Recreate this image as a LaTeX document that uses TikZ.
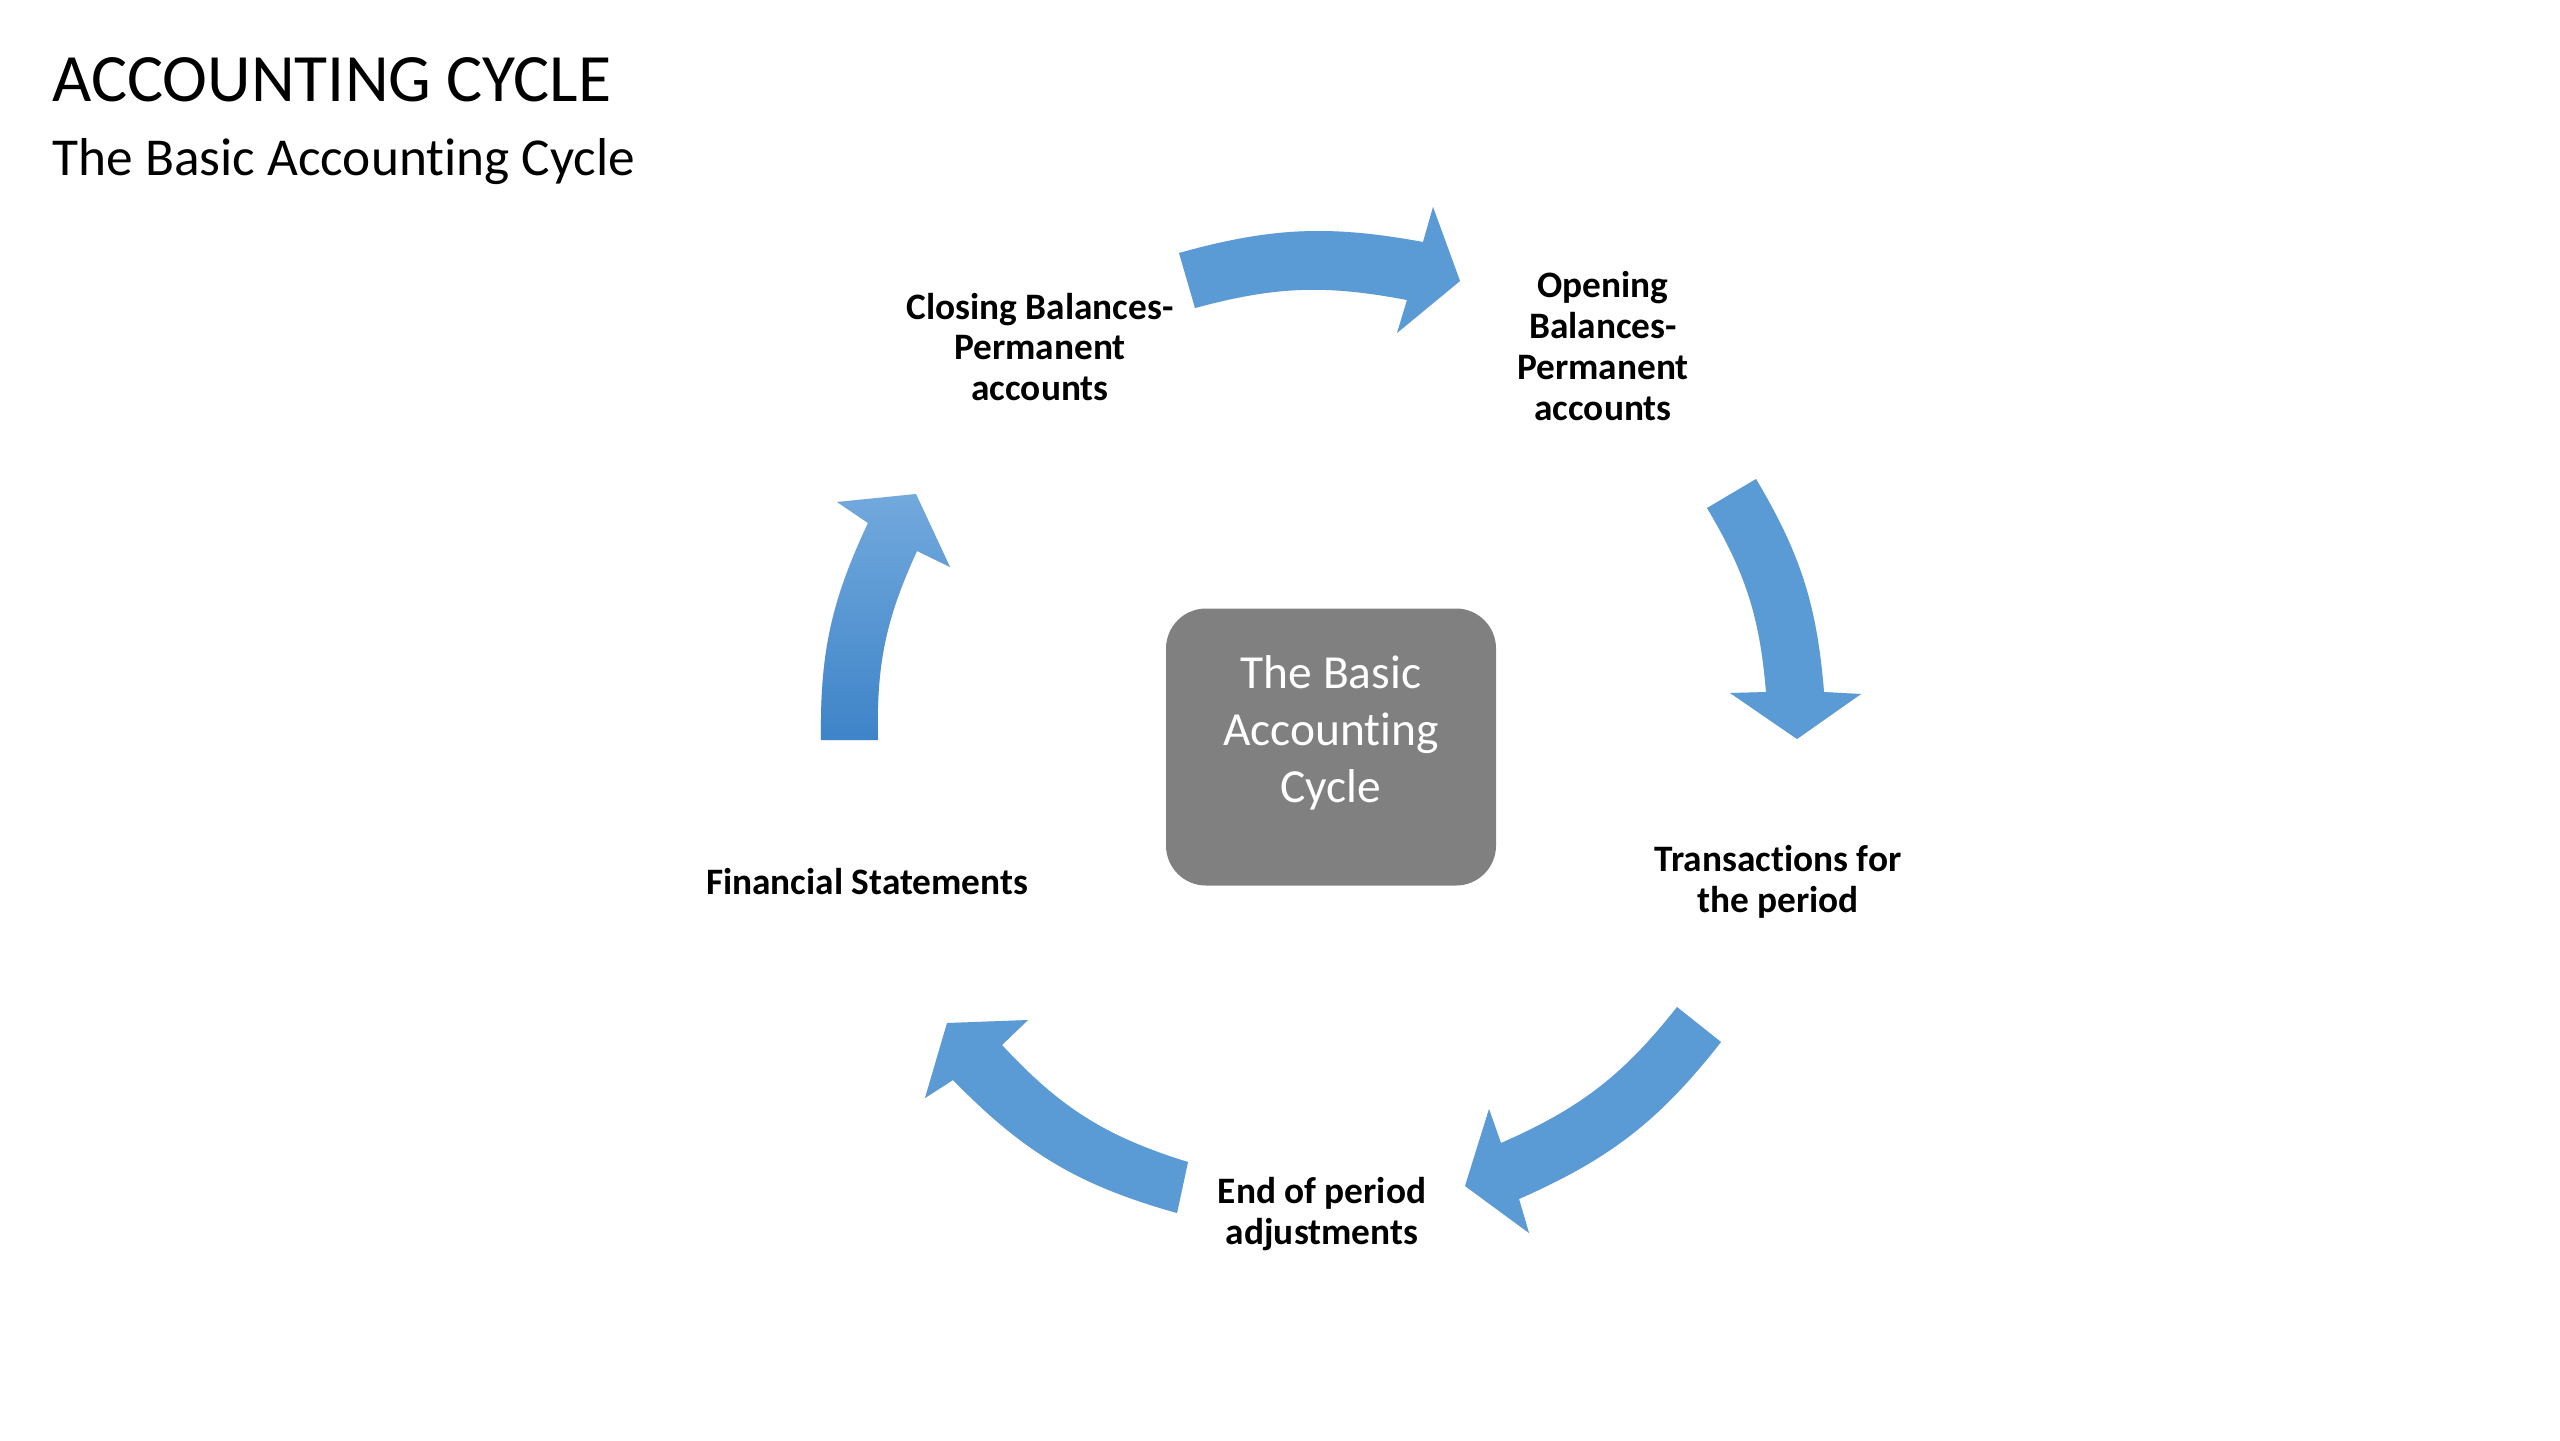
\documentclass[tikz,border=0pt]{standalone}
\usepackage{fontspec}
\setmainfont{Carlito}[Ligatures={NoCommon}]
\definecolor{arrowblue}{HTML}{5B9BD5}
\definecolor{arrowlight}{HTML}{72A9DD}
\definecolor{arrowdark}{HTML}{3E84C8}
\definecolor{boxgray}{HTML}{808080}
\begin{document}
\begin{tikzpicture}[x=0.375bp,y=-0.375bp,
  lbl/.style={align=center,inner sep=0pt,font=\bfseries\fontsize{14bp}{15.3bp}\selectfont},
  blockarrow/.style={fill=arrowblue,draw=none},
  arrowshadow/.style={fill=black,opacity=0.12,draw=none}]
\useasboundingbox[fill=white] (0,0) rectangle (2560,1440);

% titles
\node[anchor=base west,inner sep=0pt,font=\fontsize{25.4bp}{30bp}\selectfont] (title) at (52,101) {ACCOUNTING CYCLE};
\node[anchor=base west,inner sep=0pt,font=\fontsize{20bp}{24bp}\selectfont] (subtitle) at (52,175) {The Basic Accounting Cycle};

% centre box
\node[fill=boxgray,rounded corners=40*0.375bp,minimum width=330*0.375bp,minimum height=277*0.375bp,inner sep=0pt] (centre) at (1331,747) {};
\node[align=center,inner sep=0pt,text=white,font=\fontsize{17.8bp}{21.4bp}\selectfont] (centretext) at (1331,733) {The Basic\\Accounting\\Cycle};

% labels
\node[lbl] (closing) at (1040,347) {Closing Balances-\\Permanent\\accounts};
\node[lbl] (opening) at (1603,346) {Opening\\Balances-\\Permanent\\accounts};
\node[lbl] (trans) at (1778,882) {Transactions for\\the period};
\node[lbl] (endp) at (1322,1214) {End of period\\adjustments};
\node[lbl] (fin) at (867,882) {Financial Statements};

% ---- arrow coordinates ----
% top arrow
\coordinate (aTi) at (1195,308); \coordinate (aTo) at (1179,253);
\coordinate (aHo) at (1423,242); \coordinate (aBo) at (1433,207);
\coordinate (aP) at (1460,281);
\coordinate (aBi) at (1397,333); \coordinate (aHi) at (1407,300);
% right arrow
\coordinate (bTi) at (1707,508); \coordinate (bTo) at (1756,479);
\coordinate (bHo) at (1824,692); \coordinate (bBo) at (1861,694);
\coordinate (bP) at (1797,739);
\coordinate (bBi) at (1730,693); \coordinate (bHi) at (1766,692);
% bottom-right arrow
\coordinate (cTi) at (1677,1007); \coordinate (cTo) at (1721,1042);
\coordinate (cHo) at (1519,1199); \coordinate (cBo) at (1529,1233);
\coordinate (cP) at (1465,1186);
\coordinate (cBi) at (1489,1109); \coordinate (cHi) at (1501,1143);
% bottom-left arrow
\coordinate (dTi) at (1188,1162); \coordinate (dTo) at (1177,1213);
\coordinate (dHo) at (953,1080); \coordinate (dBo) at (925,1098);
\coordinate (dP) at (947,1023);
\coordinate (dBi) at (1028,1020); \coordinate (dHi) at (1002,1045);
% left arrow
\coordinate (eTi) at (878,740); \coordinate (eTo) at (821,740);
\coordinate (eHo) at (868,523); \coordinate (eBo) at (837,502);
\coordinate (eP) at (916,494);
\coordinate (eBi) at (950,567); \coordinate (eHi) at (917,551);

% shadows
\begin{scope}[shift={(3,5)}]
\fill[arrowshadow] (aTi) -- (aTo) to[bend left=13] (aHo) -- (aBo) -- (aP) -- (aBi) -- (aHi) to[bend right=13] (aTi) -- cycle;
\fill[arrowshadow] (bTi) -- (bTo) to[bend left=13] (bHo) -- (bBo) -- (bP) -- (bBi) -- (bHi) to[bend right=13] (bTi) -- cycle;
\fill[arrowshadow] (cTi) -- (cTo) to[bend left=14] (cHo) -- (cBo) -- (cP) -- (cBi) -- (cHi) to[bend right=14] (cTi) -- cycle;
\fill[arrowshadow] (dTi) -- (dTo) to[bend left=15] (dHo) -- (dBo) -- (dP) -- (dBi) -- (dHi) to[bend right=15] (dTi) -- cycle;
\fill[arrowshadow] (eTi) -- (eTo) to[bend left=13] (eHo) -- (eBo) -- (eP) -- (eBi) -- (eHi) to[bend right=13] (eTi) -- cycle;
\end{scope}

% arrows
\fill[blockarrow] (aTi) -- (aTo) to[bend left=13] (aHo) -- (aBo) -- (aP) -- (aBi) -- (aHi) to[bend right=13] (aTi) -- cycle;
\fill[blockarrow] (bTi) -- (bTo) to[bend left=13] (bHo) -- (bBo) -- (bP) -- (bBi) -- (bHi) to[bend right=13] (bTi) -- cycle;
\fill[blockarrow] (cTi) -- (cTo) to[bend left=14] (cHo) -- (cBo) -- (cP) -- (cBi) -- (cHi) to[bend right=14] (cTi) -- cycle;
\fill[blockarrow] (dTi) -- (dTo) to[bend left=15] (dHo) -- (dBo) -- (dP) -- (dBi) -- (dHi) to[bend right=15] (dTi) -- cycle;
\shade[top color=arrowlight,bottom color=arrowdark] (eTi) -- (eTo) to[bend left=13] (eHo) -- (eBo) -- (eP) -- (eBi) -- (eHi) to[bend right=13] (eTi) -- cycle;
\end{tikzpicture}
\end{document}
